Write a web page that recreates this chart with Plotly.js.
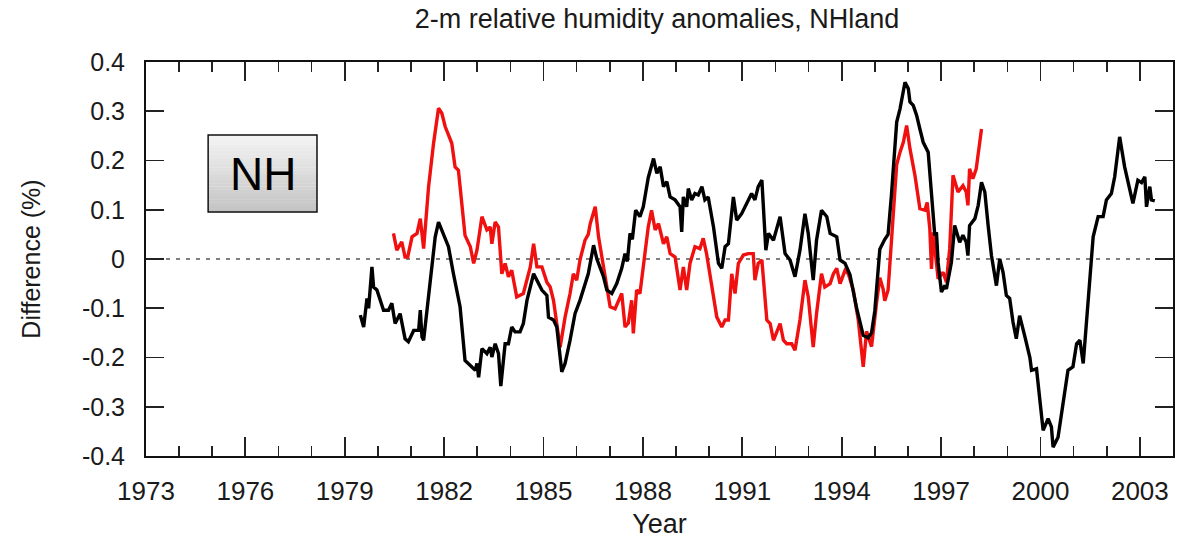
<!DOCTYPE html>
<html>
<head>
<meta charset="utf-8">
<script src="https://cdn.plot.ly/plotly-3.0.1.min.js"></script>
<style>
  html, body { margin: 0; padding: 0; background: #fff; }
  #chart { width: 1186px; height: 539px; }
</style>
</head>
<body>
<div id="chart"></div>
<script>
// Black series: 2-m relative humidity anomaly (%), NH land
const blackYears = [
  1979.47, 1979.57, 1979.67, 1979.72, 1979.82, 1979.87, 1979.97, 1980.17, 1980.32, 1980.42,
  1980.52, 1980.67, 1980.82, 1980.92, 1981.08, 1981.23, 1981.28, 1981.33, 1981.38, 1981.58,
  1981.73, 1981.83, 1981.98, 1982.13, 1982.28, 1982.38, 1982.48, 1982.63, 1982.79, 1982.94,
  1982.99, 1983.04, 1983.14, 1983.29, 1983.39, 1983.44, 1983.54, 1983.64, 1983.71, 1983.84,
  1983.94, 1984.04, 1984.14, 1984.29, 1984.39, 1984.50, 1984.70, 1984.80, 1984.95, 1985.10,
  1985.15, 1985.30, 1985.40, 1985.55, 1985.65, 1985.80, 1985.95, 1986.10, 1986.20, 1986.35,
  1986.51, 1986.61, 1986.81, 1986.91, 1987.06, 1987.21, 1987.36, 1987.46, 1987.53, 1987.61,
  1987.68, 1987.78, 1987.91, 1988.01, 1988.16, 1988.32, 1988.42, 1988.52, 1988.62, 1988.72,
  1988.82, 1988.97, 1989.12, 1989.17, 1989.22, 1989.32, 1989.37, 1989.47, 1989.57, 1989.67,
  1989.78, 1989.87, 1989.97, 1990.13, 1990.28, 1990.38, 1990.48, 1990.58, 1990.73, 1990.83,
  1990.98, 1991.13, 1991.28, 1991.38, 1991.48, 1991.59, 1991.71, 1991.79, 1991.94, 1992.14,
  1992.29, 1992.44, 1992.59, 1992.74, 1992.89, 1992.99, 1993.14, 1993.24, 1993.39, 1993.55,
  1993.65, 1993.85, 1993.95, 1994.10, 1994.25, 1994.45, 1994.65, 1994.80, 1994.90, 1995.00,
  1995.15, 1995.30, 1995.40, 1995.50, 1995.66, 1995.76, 1995.91, 1996.01, 1996.06, 1996.16,
  1996.26, 1996.36, 1996.46, 1996.61, 1996.71, 1996.81, 1996.86, 1996.91, 1997.01, 1997.11,
  1997.16, 1997.31, 1997.41, 1997.56, 1997.66, 1997.76, 1997.81, 1997.86, 1998.02, 1998.12,
  1998.22, 1998.32, 1998.42, 1998.52, 1998.67, 1998.77, 1998.87, 1998.97, 1999.07, 1999.17,
  1999.27, 1999.37, 1999.52, 1999.68, 1999.73, 1999.88, 2000.08, 2000.23, 2000.33, 2000.38,
  2000.53, 2000.73, 2000.83, 2000.98, 2001.09, 2001.19, 2001.29, 2001.44, 2001.59, 2001.74,
  2001.89, 2001.99, 2002.14, 2002.24, 2002.39, 2002.54, 2002.69, 2002.79, 2002.94, 2003.05,
  2003.15, 2003.20, 2003.30, 2003.35, 2003.45
];
const blackValues = [
  -0.114, -0.138, -0.080, -0.100, -0.016, -0.057, -0.063, -0.104, -0.104, -0.090,
  -0.131, -0.111, -0.162, -0.168, -0.145, -0.145, -0.104, -0.158, -0.165, -0.036,
   0.045,  0.075,  0.052,  0.025, -0.030, -0.063, -0.097, -0.206, -0.216, -0.226,
  -0.212, -0.240, -0.182, -0.192, -0.179, -0.199, -0.172, -0.192, -0.258, -0.172,
  -0.172, -0.138, -0.148, -0.148, -0.131, -0.084, -0.030, -0.043, -0.063, -0.074,
  -0.118, -0.124, -0.138, -0.229, -0.212, -0.165, -0.111, -0.084, -0.063, -0.030,
   0.028,  0.000, -0.036, -0.063, -0.070, -0.050, -0.019,  0.011, -0.005,  0.052,
   0.040,  0.099,  0.086,  0.106,  0.165,  0.204,  0.174,  0.187,  0.147,  0.157,
   0.126,  0.120,  0.106,  0.055,  0.126,  0.106,  0.143,  0.120,  0.133,  0.130,
   0.147,  0.120,  0.126,  0.065, -0.009, -0.019,  0.025,  0.031,  0.126,  0.079,
   0.092,  0.113,  0.133,  0.120,  0.147,  0.160,  0.018,  0.052,  0.038,  0.086,
   0.011, -0.002, -0.036,  0.018,  0.092,  0.052, -0.043,  0.038,  0.099,  0.086,
   0.052,  0.045, -0.002, -0.009, -0.032, -0.100, -0.155, -0.160, -0.150, -0.105,
   0.020,  0.040,  0.050,  0.129,  0.278,  0.305,  0.359,  0.346,  0.319,  0.312,
   0.292,  0.264,  0.237,  0.217,  0.129,  0.048,  0.054, -0.007, -0.067, -0.054,
  -0.061, -0.007,  0.068,  0.034,  0.048,  0.034,  0.007,  0.068,  0.082,  0.109,
   0.156,  0.136,  0.068,  0.007, -0.054,  0.000, -0.027, -0.074, -0.080, -0.128,
  -0.162, -0.115, -0.155, -0.200, -0.226, -0.223, -0.348, -0.324, -0.341, -0.382,
  -0.362, -0.267, -0.226, -0.219, -0.172, -0.165, -0.212, -0.084,  0.045,  0.086,
   0.086,  0.120,  0.133,  0.167,  0.248,  0.187,  0.140,  0.113,  0.160,  0.155,
   0.167,  0.106,  0.147,  0.120,  0.118
];

// Red series: second NH land estimate, 1980-1998
const redYears = [
  1980.47, 1980.57, 1980.72, 1980.82, 1980.90, 1981.03, 1981.18, 1981.28, 1981.38, 1981.53,
  1981.68, 1981.83, 1981.93, 1982.03, 1982.23, 1982.33, 1982.43, 1982.63, 1982.79, 1982.89,
  1982.99, 1983.14, 1983.29, 1983.39, 1983.44, 1983.54, 1983.64, 1983.74, 1983.84, 1983.94,
  1984.04, 1984.19, 1984.39, 1984.60, 1984.70, 1984.80, 1984.95, 1985.10, 1985.20, 1985.30,
  1985.50, 1985.65, 1985.80, 1985.90, 1986.00, 1986.10, 1986.25, 1986.35, 1986.41, 1986.56,
  1986.66, 1986.76, 1986.86, 1987.01, 1987.16, 1987.36, 1987.46, 1987.56, 1987.66, 1987.71,
  1987.81, 1987.91, 1988.06, 1988.16, 1988.26, 1988.37, 1988.47, 1988.62, 1988.72, 1988.82,
  1988.97, 1989.12, 1989.22, 1989.32, 1989.42, 1989.57, 1989.72, 1989.82, 1989.92, 1990.08,
  1990.23, 1990.38, 1990.48, 1990.58, 1990.68, 1990.78, 1990.88, 1991.03, 1991.18, 1991.33,
  1991.38, 1991.48, 1991.59, 1991.74, 1991.84, 1991.94, 1992.14, 1992.24, 1992.34, 1992.49,
  1992.59, 1992.74, 1992.89, 1992.99, 1993.14, 1993.24, 1993.39, 1993.49, 1993.65, 1993.75,
  1993.85, 1993.95, 1994.10, 1994.20, 1994.35, 1994.50, 1994.65, 1994.75, 1994.90, 1995.05,
  1995.15, 1995.25, 1995.30, 1995.40, 1995.50, 1995.66, 1995.76, 1995.86, 1995.96, 1996.06,
  1996.21, 1996.36, 1996.51, 1996.58, 1996.66, 1996.71, 1996.76, 1996.91, 1997.06, 1997.16,
  1997.26, 1997.36, 1997.51, 1997.66, 1997.76, 1997.81, 1997.86, 1997.96, 1998.06, 1998.22
];
const redValues = [
   0.052,  0.018,  0.035,  0.004,  0.004,  0.045,  0.052,  0.082,  0.021,  0.147,
   0.235,  0.306,  0.296,  0.269,  0.235,  0.187,  0.180,  0.048,  0.025, -0.009,
   0.018,  0.086,  0.059,  0.065,  0.031,  0.075,  0.065, -0.030, -0.009, -0.036,
  -0.023, -0.077, -0.070, -0.016,  0.031, -0.016, -0.016, -0.047, -0.057, -0.084,
  -0.179, -0.118, -0.070, -0.030, -0.043, -0.002,  0.038,  0.050,  0.072,  0.106,
   0.045,  0.004, -0.043, -0.097, -0.101, -0.070, -0.138, -0.130, -0.084, -0.151,
  -0.063, -0.070,  0.011,  0.065,  0.099,  0.059,  0.072,  0.031,  0.045,  0.011,
   0.004, -0.063, -0.016, -0.063, -0.009,  0.025,  0.021,  0.042,  0.011, -0.057,
  -0.118, -0.138, -0.124, -0.124, -0.030, -0.070, -0.009,  0.008,  0.011,  0.011,
  -0.043, -0.009, -0.002, -0.124, -0.131, -0.165, -0.131, -0.165, -0.172, -0.172,
  -0.185, -0.124, -0.043, -0.077, -0.179, -0.111, -0.030, -0.057, -0.050, -0.030,
  -0.019, -0.050, -0.023, -0.030, -0.063, -0.124, -0.219, -0.147, -0.178, -0.090,
  -0.038, -0.061, -0.085, -0.063,  0.040,  0.192,  0.217,  0.237,  0.271,  0.224,
   0.170,  0.102,  0.099,  0.115,  0.061, -0.020,  0.054, -0.040, -0.027, -0.047,
   0.021,  0.170,  0.136,  0.149,  0.136,  0.109,  0.183,  0.163,  0.183,  0.264
];

const yTickValues = [-0.4, -0.3, -0.2, -0.1, 0, 0.1, 0.2, 0.3, 0.4];
const yTickLabels = ['-0.4', '-0.3', '-0.2', '-0.1', '0', '0.1', '0.2', '0.3', '0.4'];
const xTickValues = [1973, 1976, 1979, 1982, 1985, 1988, 1991, 1994, 1997, 2000, 2003];
const xTickLabels = xTickValues.map(String);

const chartTitle = '2-m relative humidity anomalies, NHland';
const xTitle = 'Year';
const yTitle = 'Difference (%)';
const panelLabel = 'NH';

const FONT = 'Liberation Sans, Arial, Helvetica, sans-serif';
const INK = '#1a1a1a';

const traces = [
  {
    x: redYears, y: redValues, type: 'scatter', mode: 'lines',
    line: { color: '#f01010', width: 3.4 }, hoverinfo: 'x+y', showlegend: false
  },
  {
    x: blackYears, y: blackValues, type: 'scatter', mode: 'lines',
    line: { color: '#000000', width: 3.4 }, hoverinfo: 'x+y', showlegend: false
  }
];

// Panel label box with a soft vertical grey gradient
const box = { x0: 0.0605, x1: 0.1665, y0: 0.619, y1: 0.8147 };
const shapes = [];
const strips = 24;
for (let i = 0; i < strips; i++) {
  const t = i / (strips - 1);
  const g = Math.round(243 - t * (243 - 196));
  const h = (box.y1 - box.y0) / strips;
  shapes.push({
    type: 'rect', xref: 'paper', yref: 'paper', layer: 'above',
    x0: box.x0, x1: box.x1,
    y0: box.y1 - (i + 1) * h - 0.0005, y1: box.y1 - i * h,
    fillcolor: `rgb(${g},${g},${g})`, line: { width: 0 }
  });
}
shapes.push({
  type: 'rect', xref: 'paper', yref: 'paper', layer: 'above',
  x0: box.x0, x1: box.x1, y0: box.y0, y1: box.y1,
  fillcolor: 'rgba(0,0,0,0)', line: { color: '#111', width: 1.5 }
});
// Dotted zero reference line
shapes.push({
  type: 'line', xref: 'paper', yref: 'y', layer: 'below',
  x0: 0, x1: 1, y0: 0, y1: 0,
  line: { color: '#555', width: 1.3, dash: '4px,6px' }
});

const layout = {
  width: 1186, height: 539,
  margin: { l: 146, r: 13, t: 62, b: 83 },
  paper_bgcolor: '#ffffff', plot_bgcolor: '#ffffff',
  font: { family: FONT, color: INK },
  title: {
    text: chartTitle, font: { family: FONT, size: 27, color: INK },
    x: 0.4976, xref: 'paper', xanchor: 'center', y: 0.965, yanchor: 'middle'
  },
  xaxis: {
    range: [1973, 2004], tickmode: 'array', tickvals: xTickValues, ticktext: xTickLabels,
    ticks: 'inside', ticklen: 19, tickwidth: 1.8, tickcolor: '#222',
    minor: { dtick: 1, tick0: 1973, ticks: 'inside', ticklen: 10, tickwidth: 1.6, tickcolor: '#222', showgrid: false },
    showline: true, linecolor: '#111', linewidth: 2, mirror: 'allticks',
    showgrid: false, zeroline: false,
    tickfont: { family: FONT, size: 26, color: INK }, ticklabelstandoff: 11,
    title: { text: xTitle, font: { family: FONT, size: 27, color: INK }, standoff: 12 }
  },
  yaxis: {
    range: [-0.4, 0.4], tickmode: 'array', tickvals: yTickValues, ticktext: yTickLabels,
    ticks: 'inside', ticklen: 18, tickwidth: 1.8, tickcolor: '#222',
    showline: true, linecolor: '#111', linewidth: 2, mirror: 'allticks',
    showgrid: false, zeroline: false,
    tickfont: { family: FONT, size: 25, color: INK }, ticklabelstandoff: 14,
    title: { text: yTitle, font: { family: FONT, size: 25, color: INK }, standoff: 34 }
  },
  shapes: shapes,
  annotations: [{
    text: panelLabel, xref: 'paper', yref: 'paper',
    x: (box.x0 + box.x1) / 2, y: (box.y0 + box.y1) / 2,
    xanchor: 'center', yanchor: 'middle', showarrow: false,
    font: { family: FONT, size: 46, color: '#000' }
  }]
};

Plotly.newPlot('chart', traces, layout, { displayModeBar: false, staticPlot: true });
</script>
</body>
</html>
